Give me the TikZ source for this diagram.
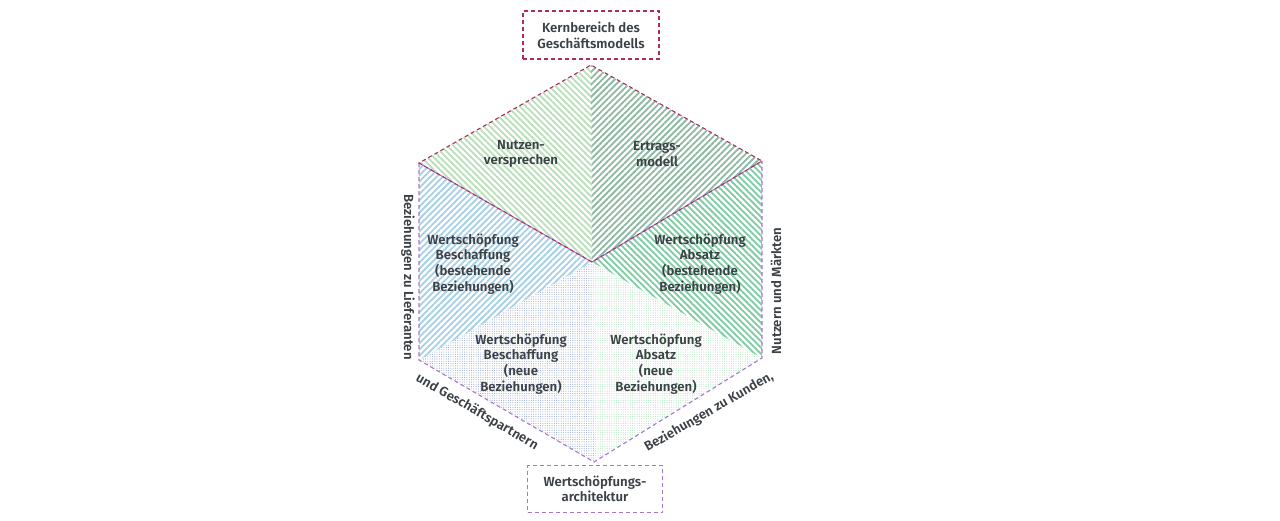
\documentclass[tikz,border=0pt]{standalone}
\usepackage{fontspec}
\setmainfont{Fira Sans}[BoldFont={Fira Sans SemiBold}]
\usetikzlibrary{patterns.meta,positioning}

\definecolor{txtgray}{HTML}{3C4146}
\definecolor{kernred}{HTML}{B02A5E}
\definecolor{archviolet}{HTML}{A676CF}
\definecolor{nutzgreen}{HTML}{B8E0B8}
\definecolor{ertraggreen}{HTML}{8DB8A2}
\definecolor{beschblue}{HTML}{A6D0E6}
\definecolor{absatzgreen}{HTML}{7CCBA2}
\definecolor{neublue}{HTML}{9AA8C8}
\definecolor{neugreen}{HTML}{B4E2C2}

\tikzset{
    kernline/.style={draw=kernred,line width=1.1pt,dash pattern=on 4pt off 3pt},
    archline/.style={draw=archviolet,line width=1.1pt,dash pattern=on 4pt off 3pt},
    lbl/.style={text=txtgray,font=\bfseries\fontsize{13.2}{15.7}\selectfont,align=center},
    stripes/.style={pattern={Lines[angle=#1,distance=4.4pt,line width=1.8pt]}},
    dotted area/.style={pattern={Dots[distance=2.3pt,radius=0.55pt]}}
}

\begin{document}
\begin{tikzpicture}[x=1pt,y=-1pt]
    \useasboundingbox (0,0) rectangle (1280,520);
    \coordinate (top) at (591,65);
    \coordinate (ul) at (419,163);
    \coordinate (ur) at (762,161);
    \coordinate (ll) at (419,360);
    \coordinate (lr) at (762,358);
    \coordinate (bot) at (594,462);
    \coordinate (ctr) at (592,262);

    \fill [stripes=-45,pattern color=nutzgreen] (top) -- (ul) -- (ctr) -- cycle;
    \fill [stripes=45,pattern color=ertraggreen] (top) -- (ctr) -- (ur) -- cycle;
    \fill [stripes=45,pattern color=beschblue] (ul) -- (ctr) -- (ll) -- cycle;
    \fill [stripes=-45,pattern color=absatzgreen] (ur) -- (lr) -- (ctr) -- cycle;
    \fill [dotted area,pattern color=neublue] (ll) -- (ctr) -- (bot) -- cycle;
    \fill [dotted area,pattern color=neugreen] (ctr) -- (lr) -- (bot) -- cycle;

    \draw [archline] (ul) -- (ll) -- (bot) -- (lr) -- (ur);
    \draw [archline,dash phase=3.5pt] (ul) -- (ctr) -- (ur);
    \draw [kernline] (ctr) -- (ul) -- (top) -- (ur) -- cycle;

    \node [lbl,kernline,minimum width=136pt,minimum height=48pt] (kern) at (591,35) {Kernbereich des\\Geschäftsmodells};
    \node [lbl,archline,minimum width=135pt,minimum height=47pt] (arch) at (595,489) {Wertschöpfungs-\\architektur};

    \node [lbl] (nutzen) at (521,154) {Nutzen-\\versprechen};
    \node [lbl] (ertrag) at (657,154) {Ertrags-\\modell};
    \node [lbl] (beschalt) at (473,264) {Wertschöpfung\\Beschaffung\\(bestehende\\Beziehungen)};
    \node [lbl] (absatzalt) at (700,264) {Wertschöpfung\\Absatz\\(bestehende\\Beziehungen)};
    \node [lbl] (beschneu) at (521,364) {Wertschöpfung\\Beschaffung\\(neue\\Beziehungen)};
    \node [lbl] (absatzneu) at (656,364) {Wertschöpfung\\Absatz\\(neue\\Beziehungen)};

    \node [lbl,rotate=-90] (lief) at (408,277) {Beziehungen zu Lieferanten};
    \node [lbl,rotate=-30] (partner) at (477,412) {und Geschäftspartnern};
    \node [lbl,rotate=30] (kunden) at (709,412) {Beziehungen zu Kunden,};
    \node [lbl,rotate=90] (maerkte) at (776,291) {Nutzern und Märkten};
\end{tikzpicture}
\end{document}
